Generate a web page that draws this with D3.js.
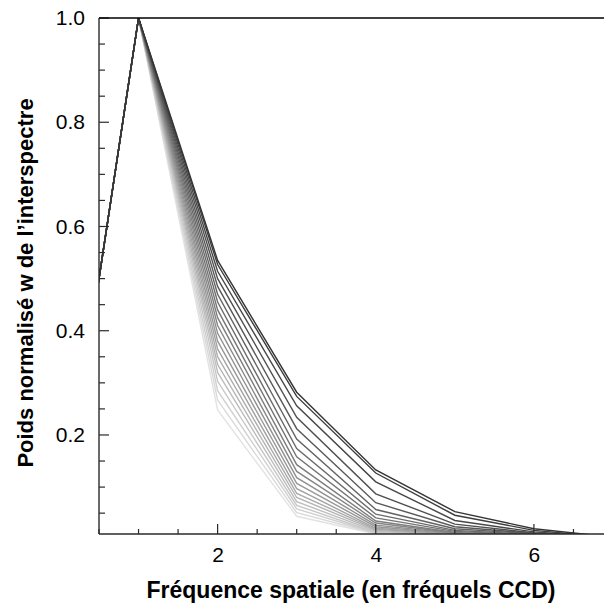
<!DOCTYPE html>
<html>
<head>
<meta charset="utf-8">
<script src="https://cdn.jsdelivr.net/npm/d3@7"></script>
<style>
html,body{margin:0;padding:0;background:#fff;}
svg{display:block;font-family:"Liberation Sans",Arial,Helvetica,sans-serif;}
</style>
</head>
<body>
<svg id="chart" width="604" height="607"></svg>
<script>
// Spatial frequencies (CCD frequels)
const frequencies = [0, 1, 2, 3, 4, 5, 6, 7];

// Normalised weights, darkest curve first
const w00 = [0, 1, 0.535, 0.282, 0.133, 0.053, 0.020, 0.004];
const w01 = [0, 1, 0.527, 0.274, 0.127, 0.046, 0.017, 0.003];
const w02 = [0, 1, 0.514, 0.256, 0.110, 0.036, 0.014, 0.003];
const w03 = [0, 1, 0.500, 0.234, 0.087, 0.029, 0.012, 0.002];
const w04 = [0, 1, 0.485, 0.212, 0.070, 0.024, 0.011, 0.002];
const w05 = [0, 1, 0.470, 0.192, 0.057, 0.020, 0.010, 0.002];
const w06 = [0, 1, 0.455, 0.174, 0.048, 0.017, 0.009, 0.001];
const w07 = [0, 1, 0.440, 0.158, 0.041, 0.015, 0.008, 0.001];
const w08 = [0, 1, 0.425, 0.143, 0.035, 0.013, 0.007, 0.001];
const w09 = [0, 1, 0.410, 0.130, 0.031, 0.012, 0.007, 0.001];
const w10 = [0, 1, 0.395, 0.118, 0.027, 0.011, 0.006, 0.001];
const w11 = [0, 1, 0.380, 0.107, 0.024, 0.010, 0.006, 0.001];
const w12 = [0, 1, 0.365, 0.097, 0.021, 0.009, 0.005, 0.001];
const w13 = [0, 1, 0.350, 0.088, 0.019, 0.009, 0.005, 0.001];
const w14 = [0, 1, 0.335, 0.080, 0.017, 0.008, 0.005, 0.001];
const w15 = [0, 1, 0.320, 0.072, 0.015, 0.008, 0.004, 0.001];
const w16 = [0, 1, 0.303, 0.065, 0.013, 0.007, 0.004, 0.001];
const w17 = [0, 1, 0.285, 0.058, 0.012, 0.007, 0.004, 0.001];
const w18 = [0, 1, 0.267, 0.051, 0.011, 0.006, 0.003, 0.001];
const w19 = [0, 1, 0.248, 0.044, 0.010, 0.006, 0.003, 0.001];
const seriesValues = [w00,w01,w02,w03,w04,w05,w06,w07,w08,w09,w10,w11,w12,w13,w14,w15,w16,w17,w18,w19];

const xTickLabels = [2, 4, 6];
const yTickLabels = [0.2, 0.4, 0.6, 0.8, 1.0];

const xLabel = "Fréquence spatiale (en fréquels CCD)";
const yLabel = "Poids normalisé w de l’interspectre";

(function(){
const svg = d3.select("#chart");
const pL = 99, pR = 613, pT = 18, pB = 534;

const x = d3.scaleLinear().domain([0.5, 7.0]).range([pL, pR]);
const y = d3.scaleLinear().domain([0.01, 1.0]).range([pB, pT]);

svg.append("defs").append("clipPath").attr("id","plotclip")
  .append("rect").attr("x", pL).attr("y", pT).attr("width", pR-pL).attr("height", pB-pT);

const grey = d3.scaleLinear().domain([0, seriesValues.length-1]).range(["#353535", "#e2e2e2"]);

const line = d3.line().x((d,i)=>x(frequencies[i])).y(d=>y(d));

const g = svg.append("g").attr("clip-path","url(#plotclip)");
for (let k = seriesValues.length-1; k >= 0; k--) {
  g.append("path").datum(seriesValues[k])
    .attr("d", line)
    .attr("fill","none")
    .attr("stroke", grey(k))
    .attr("stroke-width", 1.4)
    .attr("stroke-linejoin","miter");
}

const axisColor = "#2a2a2a";
const xAxis = d3.axisBottom(x).tickValues(xTickLabels).tickSize(0).tickPadding(13).tickFormat(d3.format("d"));
const gx = svg.append("g").attr("transform", `translate(0,${pB})`).call(xAxis);
gx.select(".domain").remove();
gx.selectAll("text").attr("font-size", 21).attr("fill","#000").attr("font-family","Liberation Sans, Arial, sans-serif");
const xMinor = d3.range(0.5, 7.0, 0.5);
svg.append("g").selectAll("line").data(xMinor).join("line")
  .attr("x1", d=>x(d)).attr("x2", d=>x(d))
  .attr("y1", pB).attr("y2", d => (xTickLabels.includes(d) ? pB-10 : pB-5))
  .attr("stroke", axisColor).attr("stroke-width", 1.2);

const yAxis = d3.axisLeft(y).tickValues(yTickLabels).tickSize(0).tickPadding(14).tickFormat(d3.format(".1f"));
const gy = svg.append("g").attr("transform", `translate(${pL},0)`).call(yAxis);
gy.select(".domain").remove();
gy.selectAll("text").attr("font-size", 21).attr("fill","#000").attr("font-family","Liberation Sans, Arial, sans-serif");
const yMinor = d3.range(0.05, 1.0001, 0.05).map(v=>Math.round(v*100)/100);
svg.append("g").selectAll("line").data(yMinor).join("line")
  .attr("y1", d=>y(d)).attr("y2", d=>y(d))
  .attr("x1", pL).attr("x2", d => (yTickLabels.some(t=>Math.abs(t-d)<1e-9) ? pL+10 : pL+6))
  .attr("stroke", axisColor).attr("stroke-width", 1.2);

svg.append("line").attr("x1", pL).attr("x2", pR).attr("y1", pB).attr("y2", pB)
  .attr("stroke", axisColor).attr("stroke-width", 1.4);
svg.append("line").attr("x1", pL).attr("x2", pL).attr("y1", pT).attr("y2", pB)
  .attr("stroke", axisColor).attr("stroke-width", 1.4);
svg.append("line").attr("x1", pL).attr("x2", pR).attr("y1", pT).attr("y2", pT)
  .attr("stroke", "#000").attr("stroke-width", 1.4);

svg.append("text").attr("x", 351).attr("y", 598).attr("text-anchor","middle")
  .attr("font-weight","bold").attr("font-size", 23).text(xLabel);
svg.append("text").attr("transform","translate(33,283) rotate(-90)").attr("text-anchor","middle")
  .attr("font-weight","bold").attr("font-size", 22).text(yLabel);
})();
</script>
</body>
</html>
